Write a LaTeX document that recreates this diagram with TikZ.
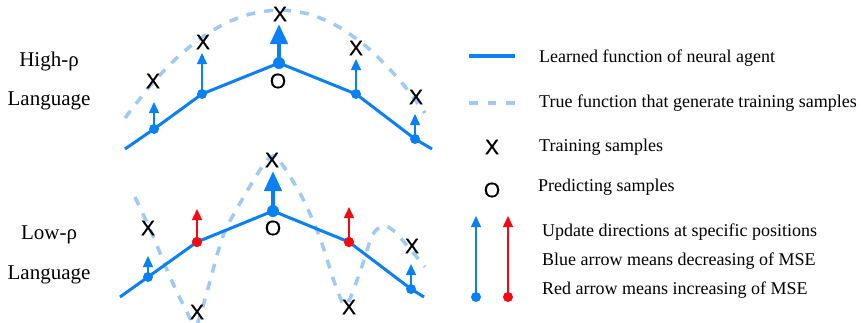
\documentclass[tikz,border=0pt]{standalone}
\usepackage{fontspec}
\setmainfont{Liberation Serif}
\newfontfamily\marksans[FakeBold=0.5]{Liberation Sans}
\usetikzlibrary{arrows.meta}
\definecolor{lblue}{RGB}{10,128,245}
\definecolor{dblue}{RGB}{160,202,246}
\definecolor{myred}{RGB}{245,10,20}
\tikzset{
  learned/.style={lblue, line width=3pt, line join=round},
  truef/.style={dblue, line width=3.5pt, dash pattern=on 9pt off 9pt},
  dotb/.style={circle, fill=lblue, inner sep=0pt, minimum size=10pt},
  dotbig/.style={circle, fill=lblue, inner sep=0pt, minimum size=12pt},
  dotr/.style={circle, fill=myred, inner sep=0pt, minimum size=10pt},
  upb/.style={lblue, line width=1.5pt, -{Triangle[length=11pt,width=10pt]}},
  upr/.style={myred, line width=1.5pt, -{Triangle[length=11pt,width=10pt]}},
  upbig/.style={lblue, line width=4.5pt, -{Triangle[length=20pt,width=17pt]}},
  mk/.style={font=\marksans\fontsize{21}{22}\selectfont, inner sep=0pt},
  lab/.style={font=\fontsize{21}{22}\selectfont, inner sep=0pt},
  leg/.style={font=\fontsize{18}{20}\selectfont, inner sep=0pt, anchor=west},
}
\begin{document}
\begin{tikzpicture}[x=1pt,y=-1pt]
\useasboundingbox (0,0) rectangle (863,322);
% ---------- High-rho ----------
\node[lab] (hl1) at (49,61) {High-ρ};
\node[lab] (hl2) at (49,101) {Language};
\draw[truef] plot[smooth] coordinates {(125,118) (150,86) (175,59.6) (200,38.8) (225,23.6) (250,14.1) (280,10) (310,14.4) (340,27.6) (370,49.7) (400,80.6) (425,113)};
\coordinate (hs) at (125,149);
\coordinate (he) at (432,149);
\node[dotb] (h1) at (154,129) {};
\node[dotb] (h2) at (202,94) {};
\node[dotbig] (h3) at (279,63) {};
\node[dotb] (h4) at (356,94) {};
\node[dotb] (h5) at (415,139) {};
\draw[learned] (hs) -- (h1.center) -- (h2.center) -- (h3.center) -- (h4.center) -- (h5.center) -- (he);
\coordinate (ht1) at (154,102);
\coordinate (ht2) at (202,53);
\coordinate (ht3) at (279,24);
\coordinate (ht4) at (356,59);
\coordinate (ht5) at (415,114);
\draw[upb] (h1.center) -- (ht1);
\draw[upb] (h2.center) -- (ht2);
\draw[upbig] (h3.center) -- (ht3);
\draw[upb] (h4.center) -- (ht4);
\draw[upb] (h5.center) -- (ht5);
\node[mk] (hx1) at (153,81) {X};
\node[mk] (hx2) at (203,42) {X};
\node[mk] (hx3) at (280,14) {X};
\node[mk] (hx4) at (356,48) {X};
\node[mk] (hx5) at (416,97) {X};
\node[mk] (ho) at (278,81) {O};
% ---------- Low-rho ----------
\node[lab] (ll1) at (49,235) {Low-ρ};
\node[lab] (ll2) at (49,275) {Language};
\draw[truef] plot[smooth, tension=0.5] coordinates {(135,197) (153,236) (170,277) (185,308) (196,325) (207,292) (223,236) (243,198) (262,167) (273,156) (284,167) (303,199) (320,238) (335,284) (346,305) (360,272) (372,236) (383,226) (394,231) (410,249) (425,267)};
\coordinate (ls) at (120,297);
\coordinate (le) at (424,297);
\node[dotb] (l1) at (148,277) {};
\node[dotr] (l2) at (197,242) {};
\node[dotbig] (l3) at (273,211) {};
\node[dotr] (l4) at (349,242) {};
\node[dotb] (l5) at (411,289) {};
\draw[learned] (ls) -- (l1.center) -- (l2.center) -- (l3.center) -- (l4.center) -- (l5.center) -- (le);
\node[dotr] at (197,242) {};
\node[dotr] at (349,242) {};
\coordinate (lt1) at (148,256);
\coordinate (lt2) at (197,209);
\coordinate (lt3) at (273,171);
\coordinate (lt4) at (349,207);
\coordinate (lt5) at (411,264);
\draw[upb] (l1.center) -- (lt1);
\draw[upr] (l2.center) -- (lt2);
\draw[upbig] (l3.center) -- (lt3);
\draw[upr] (l4.center) -- (lt4);
\draw[upb] (l5.center) -- (lt5);
\node[mk] (lx1) at (148,228) {X};
\node[mk] (lx2) at (197,312) {X};
\node[mk] (lx3) at (272,160) {X};
\node[mk] (lx4) at (349,307) {X};
\node[mk] (lx5) at (412,246) {X};
\node[mk] (lo) at (273,228) {O};
% ---------- Legend ----------
\coordinate (g1a) at (469,56);
\coordinate (g1b) at (515,56);
\draw[lblue, line width=3.5pt] (g1a) -- (g1b);
\node[leg] (t1) at (539,58) {Learned function of neural agent};
\coordinate (g2a) at (469,103);
\coordinate (g2b) at (517,103);
\draw[truef, dash pattern=on 8.5pt off 10pt] (g2a) -- (g2b);
\node[leg] (t2) at (539,103) {True function that generate training samples};
\node[mk] (gx) at (492,147) {X};
\node[leg] (t3) at (539,147) {Training samples};
\node[mk] (go) at (492,190) {O};
\node[leg] (t4) at (538,187) {Predicting samples};
\node[dotb] (gb) at (476,297) {};
\node[dotr] (gr) at (508,297) {};
\coordinate (gbt) at (476,216);
\coordinate (grt) at (508,216);
\draw[upb] (gb.center) -- (gbt);
\draw[upr] (gr.center) -- (grt);
\node[leg] (t5) at (542,232) {Update directions at specific positions};
\node[leg] (t6) at (542,261) {Blue arrow means decreasing of MSE};
\node[leg] (t7) at (542,290) {Red arrow means increasing of MSE};
\end{tikzpicture}
\end{document}
